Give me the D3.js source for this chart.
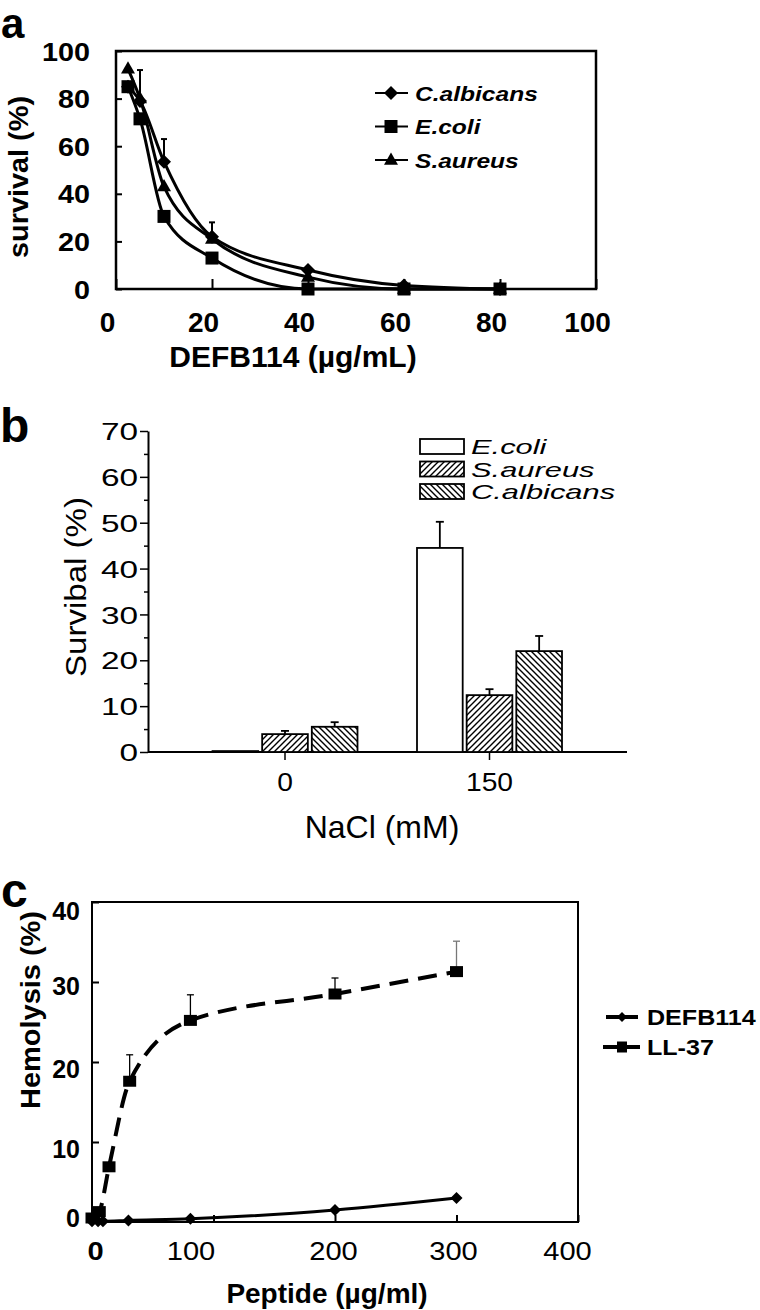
<!DOCTYPE html>
<html><head><meta charset="utf-8">
<script src="https://cdn.jsdelivr.net/npm/d3@7"></script>
<style>
html,body{margin:0;padding:0;background:#fff;}
svg{display:block;font-family:"Liberation Sans", Arial, Helvetica, sans-serif;}
</style></head><body>
<svg id="chart" width="760" height="1310"></svg>
<script>
// ---------------- Panel a data ----------------
const concA = [2.5, 5, 10, 20, 40, 60, 80];
const calbA = [85, 79, 53.5, 22, 8, 1.5, 0];
const ecoliA = [85, 71.5, 30.5, 13, 0, 0, 0];
const saurA = [92.5, 80, 43, 21, 5, 0, 0];
const calbErrA = [0, 13, 9.5, 6, 0, 0, 0];
const legendA = ["C.albicans", "E.coli", "S.aureus"];
const ticksAx = [0, 20, 40, 60, 80, 100];
const ticksAy = [0, 20, 40, 60, 80, 100];

// ---------------- Panel b data ----------------
const nacl = ["0", "150"];
const seriesB = ["E.coli", "S.aureus", "C.albicans"];
const ecoliB = [0.2, 44.5];
const ecoliErrB = [0, 5.7];
const saurB = [3.9, 12.4];
const saurErrB = [0.7, 1.3];
const calbB = [5.5, 22.0];
const calbErrB = [1.0, 3.3];
const ticksBy = [0, 10, 20, 30, 40, 50, 60, 70];
const minorBy = [5, 15, 25, 35, 45, 55, 65];

// ---------------- Panel c data ----------------
const llX = [0, 6, 14, 31, 81, 200, 300];
const llY = [0.5, 1.3, 6.9, 17.6, 25.2, 28.5, 31.3];
const llErr = [0, 0, 0, 3.3, 3.2, 2.0, 3.8];
const defX = [0, 5, 9, 30, 81, 200, 300];
const defY = [0.1, 0.1, 0.1, 0.2, 0.4, 1.5, 3.0];
const legendC = ["DEFB114", "LL-37"];
const ticksCx = [0, 100, 200, 300, 400];
const ticksCy = [0, 10, 20, 30, 40];

const svg = d3.select("#chart");

// pattern defs
const defs = svg.append("defs");
const pf = defs.append("pattern").attr("id", "hatchF").attr("patternUnits", "userSpaceOnUse").attr("width", 6).attr("height", 6);
pf.append("rect").attr("width", 6).attr("height", 6).attr("fill", "#fff");
pf.append("path").attr("d", "M-1,1 l2,-2 M0,6 l6,-6 M5,7 l2,-2").attr("stroke", "#000").attr("stroke-width", 1.4);
const pb = defs.append("pattern").attr("id", "hatchB").attr("patternUnits", "userSpaceOnUse").attr("width", 6).attr("height", 6);
pb.append("rect").attr("width", 6).attr("height", 6).attr("fill", "#fff");
pb.append("path").attr("d", "M-1,5 l2,2 M0,0 l6,6 M5,-1 l2,2").attr("stroke", "#000").attr("stroke-width", 1.4);

function diamond(cx, cy, r) { return `M${cx},${cy - r}L${cx + r},${cy}L${cx},${cy + r}L${cx - r},${cy}Z`; }
function square(cx, cy, w, h) { h = h || w; return `M${cx - w / 2},${cy - h / 2}h${w}v${h}h${-w}Z`; }
function triangle(cx, cy, s) { const h = s * 0.87; return `M${cx},${cy - h * 0.62}L${cx + s / 2},${cy + h * 0.38}L${cx - s / 2},${cy + h * 0.38}Z`; }

// ================= Panel a =================
const xA = d3.scaleLinear().domain([0, 100]).range([116, 596]);
const yA = d3.scaleLinear().domain([0, 100]).range([289, 51]);
const gA = svg.append("g");
gA.append("text").text("a").attr("x", 1).attr("y", 38).attr("font-size", 42).attr("font-weight", "bold");

const sxAy = 1.15;
gA.append("g").attr("transform", `translate(${xA(0)},0)`)
  .call(d3.axisLeft(yA).tickValues(ticksAy).tickSizeInner(-6).tickSizeOuter(0).tickPadding(26))
  .call(g => g.select(".domain").remove())
  .call(g => g.selectAll(".tick line").attr("stroke-width", 2))
  .call(g => g.selectAll("text").attr("font-size", 25).attr("font-weight", "bold").attr("font-family", null).attr("fill", "#000")
    .attr("dy", "0.36em").attr("x", -26 / sxAy).attr("transform", `scale(${sxAy},1)`));

gA.append("g").attr("transform", `translate(0,${yA(0)})`)
  .call(d3.axisBottom(xA).tickValues(ticksAx).tickSizeInner(-10).tickSizeOuter(0))
  .call(g => g.select(".domain").remove())
  .call(g => g.selectAll(".tick line").attr("stroke-width", 2))
  .call(g => g.selectAll("text").attr("font-size", 28).attr("font-weight", "bold").attr("font-family", null).attr("fill", "#000").attr("y", 43).attr("dy", 0).attr("dx", -9));

gA.append("rect").attr("x", xA(0)).attr("y", yA(100)).attr("width", xA(100) - xA(0)).attr("height", yA(0) - yA(100))
  .attr("fill", "none").attr("stroke", "#000").attr("stroke-width", 2.5);

gA.append("text").text("DEFB114 (µg/mL)").attr("x", 293).attr("y", 367).attr("text-anchor", "middle").attr("font-size", 30).attr("font-weight", "bold");
gA.append("text").text("survival (%)").attr("transform", "translate(28,177) rotate(-90)").attr("text-anchor", "middle")
  .attr("font-size", 27).attr("font-weight", "bold").attr("textLength", 162).attr("lengthAdjust", "spacingAndGlyphs");

const lineA = d3.line().x(d => xA(d[0])).y(d => yA(d[1])).curve(d3.curveMonotoneX);
[calbA, ecoliA, saurA].forEach(arr => {
  gA.append("path").attr("d", lineA(concA.map((c, i) => [c, arr[i]]))).attr("fill", "none").attr("stroke", "#000").attr("stroke-width", 3);
});
// error bars
concA.forEach((c, i) => {
  if (calbErrA[i] > 0) {
    const x = xA(c), y0 = yA(calbA[i]), y1 = yA(calbA[i] + calbErrA[i]);
    gA.append("line").attr("x1", x).attr("x2", x).attr("y1", y0).attr("y2", y1).attr("stroke", "#000").attr("stroke-width", 2);
    gA.append("line").attr("x1", x - 3).attr("x2", x + 3).attr("y1", y1).attr("y2", y1).attr("stroke", "#000").attr("stroke-width", 2);
  }
});
// markers
concA.forEach((c, i) => gA.append("path").attr("d", diamond(xA(c), yA(calbA[i]), 7)).attr("fill", "#000"));
concA.forEach((c, i) => gA.append("path").attr("d", triangle(xA(c), yA(saurA[i]), 14)).attr("fill", "#000"));
concA.forEach((c, i) => gA.append("path").attr("d", square(xA(c), yA(ecoliA[i]), 13)).attr("fill", "#000"));
// legend a
const sxLA = 1.17;
legendA.forEach((name, i) => {
  const y = 93 + i * 33.5;
  gA.append("line").attr("x1", 375).attr("x2", 408).attr("y1", y).attr("y2", y).attr("stroke", "#000").attr("stroke-width", 2);
  const d = i === 0 ? diamond(391, y, 7) : i === 1 ? square(391, y, 13) : triangle(391, y, 14);
  gA.append("path").attr("d", d).attr("fill", "#000");
  gA.append("text").text(name).attr("transform", `translate(415,${y + 7.5}) scale(${sxLA},1)`)
    .attr("font-size", 21).attr("font-weight", "bold").attr("font-style", "italic");
});

// ================= Panel b =================
const yB = d3.scaleLinear().domain([0, 70]).range([752, 431]);
const stepB = 204.5;
const x0 = d3.scaleBand().domain(nacl).range([182.75, 182.75 + 2 * stepB]);
const x1 = d3.scaleBand().domain(seriesB).range([(stepB - 145) / 2, (stepB + 145) / 2]).paddingInner(0.08);
const gB = svg.append("g");
gB.append("text").text("b").attr("x", 0).attr("y", 442).attr("font-size", 48).attr("font-weight", "bold");

const sxB = 1.39;
gB.append("g").attr("transform", "translate(148,0)")
  .call(d3.axisLeft(yB).tickValues(minorBy).tickSize(4).tickFormat(""))
  .call(g => g.select(".domain").remove())
  .call(g => g.selectAll(".tick line").attr("stroke-width", 1.5));
gB.append("g").attr("transform", "translate(148,0)")
  .call(d3.axisLeft(yB).tickValues(ticksBy).tickSize(8).tickSizeOuter(0).tickPadding(2))
  .call(g => g.select(".domain").attr("stroke-width", 2))
  .call(g => g.selectAll(".tick line").attr("stroke-width", 1.5))
  .call(g => g.selectAll("text").attr("font-size", 24).attr("font-family", null).attr("fill", "#000")
    .attr("x", -10 / sxB).attr("transform", `scale(${sxB},1)`).attr("dy", "0.36em"));

gB.append("line").attr("x1", 148).attr("x2", 627).attr("y1", yB(0)).attr("y2", yB(0)).attr("stroke", "#000").attr("stroke-width", 2);
const sxBc = 1.13;
gB.append("g").attr("transform", `translate(0,${yB(0)})`)
  .call(d3.axisBottom(x0).tickSize(8).tickSizeOuter(0))
  .call(g => g.select(".domain").remove())
  .call(g => g.selectAll(".tick line").attr("stroke-width", 1.5))
  .call(g => g.selectAll("text").attr("font-size", 25).attr("font-family", null).attr("fill", "#000")
    .attr("y", 39).attr("dy", 0).attr("transform", `scale(${sxBc},1)`));

const fillsB = ["#fff", "url(#hatchF)", "url(#hatchB)"];
const valsB = [ecoliB, saurB, calbB];
const errsB = [ecoliErrB, saurErrB, calbErrB];
seriesB.forEach((s, si) => {
  nacl.forEach((c, ci) => {
    const v = valsB[si][ci], e = errsB[si][ci];
    const x = x0(c) + x1(s), w = x1.bandwidth();
    gB.append("rect").attr("x", x).attr("y", yB(v)).attr("width", w).attr("height", yB(0) - yB(v))
      .attr("fill", fillsB[si]).attr("stroke", "#000").attr("stroke-width", 1.8);
    if (e > 0) {
      const cx = x + w / 2, y1 = yB(v + e);
      gB.append("line").attr("x1", cx).attr("x2", cx).attr("y1", yB(v)).attr("y2", y1).attr("stroke", "#000").attr("stroke-width", 1.8);
      gB.append("line").attr("x1", cx - 4).attr("x2", cx + 4).attr("y1", y1).attr("y2", y1).attr("stroke", "#000").attr("stroke-width", 1.8);
    }
  });
});
// legend b
const sxL = 1.47;
seriesB.forEach((s, i) => {
  const top = 439 + i * 22.5;
  gB.append("rect").attr("x", 420).attr("y", top).attr("width", 44).attr("height", 15)
    .attr("fill", fillsB[i]).attr("stroke", "#000").attr("stroke-width", 1.8);
  gB.append("text").text(s).attr("transform", `translate(471,${top + 15}) scale(${sxL},1)`)
    .attr("font-size", 21).attr("font-style", "italic");
});
gB.append("text").text("Survibal (%)").attr("transform", "translate(86,587) rotate(-90)").attr("text-anchor", "middle")
  .attr("font-size", 30).attr("textLength", 180).attr("lengthAdjust", "spacingAndGlyphs");
gB.append("text").text("NaCl (mM)").attr("x", 382).attr("y", 838).attr("text-anchor", "middle").attr("font-size", 32);

// ================= Panel c =================
const xC = d3.scaleLinear().domain([0, 400]).range([92, 578]);
const yC = d3.scaleLinear().domain([0, 40]).range([1222, 902]);
const gC = svg.append("g");
gC.append("text").text("c").attr("x", 1).attr("y", 907).attr("font-size", 48).attr("font-weight", "bold");

const yNudgeC = [-5, 6, 6, 3, 8];
gC.append("g").attr("transform", `translate(${xC(0)},0)`)
  .call(d3.axisLeft(yC).tickValues(ticksCy).tickSizeInner(-7).tickSizeOuter(0).tickPadding(12))
  .call(g => g.select(".domain").remove())
  .call(g => g.selectAll(".tick line").attr("stroke-width", 2))
  .call(g => g.selectAll("text").attr("font-size", 25).attr("font-weight", "bold").attr("font-family", null).attr("fill", "#000")
    .attr("dy", (d, i) => (yNudgeC[i] + 9) + "px"));

const xNudgeC = [3, -23, -2, -3.5, -11];
const sxC = 1.12;
gC.append("g").attr("transform", `translate(0,${yC(0)})`)
  .call(d3.axisBottom(xC).tickValues(ticksCx).tickSizeInner(-7).tickSizeOuter(0))
  .call(g => g.select(".domain").remove())
  .call(g => g.selectAll(".tick line").attr("stroke-width", 2))
  .call(g => g.selectAll("text").attr("font-size", 26).attr("font-family", null).attr("fill", "#000")
    .attr("font-weight", d => d === 0 ? "bold" : "normal")
    .attr("y", 38).attr("dy", 0).attr("x", (d, i) => xNudgeC[i] / sxC).attr("transform", `scale(${sxC},1)`));

gC.append("rect").attr("x", xC(0)).attr("y", yC(40)).attr("width", xC(400) - xC(0)).attr("height", yC(0) - yC(40))
  .attr("fill", "none").attr("stroke", "#000").attr("stroke-width", 2);

gC.append("text").text("Peptide (µg/ml)").attr("x", 327).attr("y", 1303).attr("text-anchor", "middle").attr("font-size", 28).attr("font-weight", "bold");
gC.append("text").text("Hemolysis (%)").attr("transform", "translate(40,1010) rotate(-90)").attr("text-anchor", "middle")
  .attr("font-size", 28).attr("font-weight", "bold").attr("textLength", 198).attr("lengthAdjust", "spacingAndGlyphs");

const lineC = d3.line().x(d => xC(d[0])).y(d => yC(d[1])).curve(d3.curveMonotoneX);
gC.append("path").attr("d", lineC(defX.map((x, i) => [x, defY[i]]))).attr("fill", "none").attr("stroke", "#000").attr("stroke-width", 3);
gC.append("path").attr("d", lineC(llX.map((x, i) => [x, llY[i]]))).attr("fill", "none").attr("stroke", "#000")
  .attr("stroke-width", 4).attr("stroke-dasharray", "19,10");
llX.forEach((x, i) => {
  if (llErr[i] > 0) {
    const px = xC(x), y0 = yC(llY[i]), y1 = yC(llY[i] + llErr[i]);
    const col = i === llX.length - 1 ? "#777" : "#000";
    gC.append("line").attr("x1", px).attr("x2", px).attr("y1", y0).attr("y2", y1).attr("stroke", col).attr("stroke-width", 1.3);
    gC.append("line").attr("x1", px - 3.5).attr("x2", px + 3.5).attr("y1", y1).attr("y2", y1).attr("stroke", col).attr("stroke-width", 1.3);
  }
});
defX.forEach((x, i) => gC.append("path").attr("d", diamond(xC(x), yC(defY[i]), 6)).attr("fill", "#000"));
llX.forEach((x, i) => gC.append("path").attr("d", square(xC(x), yC(llY[i]), 13, 11)).attr("fill", "#000"));

// legend c
const sxLC = 1.14;
legendC.forEach((name, i) => {
  const y = 1017 + i * 30;
  gC.append("line").attr("x1", i ? 603 : 606).attr("x2", i ? 640 : 638).attr("y1", y).attr("y2", y).attr("stroke", "#000").attr("stroke-width", 4);
  gC.append("path").attr("d", i ? square(622, y, 10, 11) : diamond(622, y, 5)).attr("fill", "#000");
  gC.append("text").text(name).attr("transform", `translate(647,${y + 8}) scale(${sxLC},1)`).attr("font-size", 22).attr("font-weight", "bold");
});
</script>
</body></html>
